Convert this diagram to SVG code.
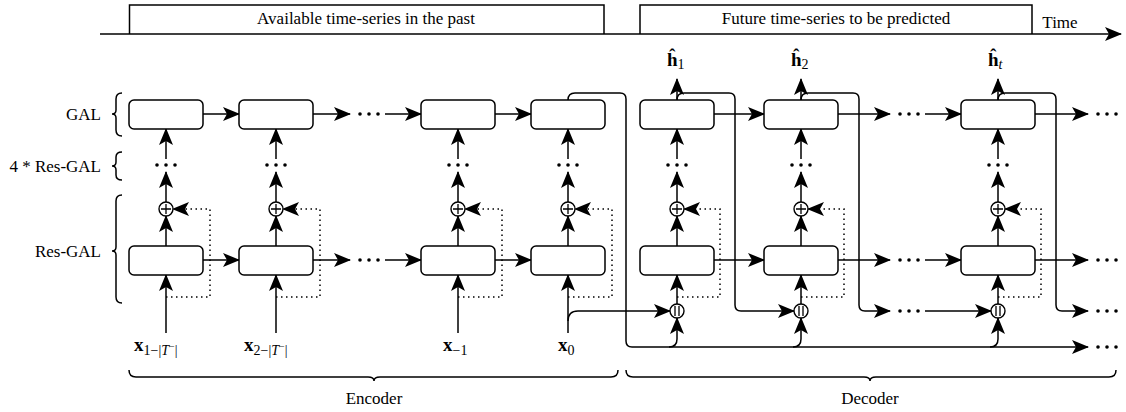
<svg xmlns="http://www.w3.org/2000/svg" width="1126" height="412" viewBox="0 0 1126 412">
  <defs>
    <marker id="arr" markerUnits="userSpaceOnUse" markerWidth="17" markerHeight="14" viewBox="0 0 17 14" refX="16" refY="7" orient="auto">
      <path d="M0,0 L17,7 L0,14 L4,7 Z" fill="#000"/>
    </marker>
    <g id="dots3">
      <circle cx="-9" cy="0" r="1.8"/>
      <circle cx="0" cy="0" r="1.8"/>
      <circle cx="9" cy="0" r="1.8"/>
    </g>
    <g id="plus">
      <circle cx="0" cy="0" r="7" fill="#fff" stroke="#000" stroke-width="1.4"/>
      <path d="M-5,0 H5 M0,-5 V5" stroke="#000" stroke-width="1.3"/>
    </g>
    <g id="concat">
      <circle cx="0" cy="0" r="7" fill="#fff" stroke="#000" stroke-width="1.4"/>
      <path d="M-2,-5 V5 M2,-5 V5" stroke="#000" stroke-width="1.3"/>
    </g>
  </defs>
  <style>
    text { font-family: "Liberation Serif", "Times New Roman", serif; fill: #000; }
    .lbl { font-size: 17px; }
    .box { fill: #fff; stroke: #000; stroke-width: 1.5; }
    .ln { fill: none; stroke: #000; stroke-width: 1.5; }
    .ar { fill: none; stroke: #000; stroke-width: 1.5; marker-end: url(#arr); }
    .dt { fill: none; stroke: #000; stroke-width: 1.5; stroke-dasharray: 1.5 3.5; marker-end: url(#arr); }
    .var { font-size: 19px; font-weight: bold; }
    .sub { font-size: 14px; font-weight: normal; }
  </style>

  <!-- time axis with the two period frames -->
  <g id="timeline">
    <path class="ln" d="M129.5,34 V5 H604 V34"/>
    <path class="ln" d="M640,34 V5 H1032 V34"/>
    <path class="ar" d="M100,34 H1121"/>
    <text class="lbl" x="366" y="24" text-anchor="middle">Available time-series in the past</text>
    <text class="lbl" x="836" y="24" text-anchor="middle">Future time-series to be predicted</text>
    <text class="lbl" x="1060" y="28" text-anchor="middle">Time</text>
  </g>

  <!-- layer labels with braces -->
  <g id="layer-labels">
    <text class="lbl" x="101" y="120" text-anchor="end">GAL</text>
    <path class="ln" d="M122,93 Q116,93 116,99 V110 Q116,114 112,114 Q116,114 116,118 V130 Q116,136 122,136"/>
    <text class="lbl" x="101" y="172" text-anchor="end">4 * Res-GAL</text>
    <path class="ln" d="M122,152 Q116,152 116,157 V162 Q116,166 112,166 Q116,166 116,170 V175 Q116,180 122,180"/>
    <text class="lbl" x="101" y="257" text-anchor="end">Res-GAL</text>
    <path class="ln" d="M122,195 Q116,195 116,201 V247 Q116,251 112,251 Q116,251 116,255 V297 Q116,303 122,303"/>
  </g>

  <!-- connectors -->
  <g id="connectors">
    <!-- encoder column stacks -->
    <g id="enc-stack">
      <path class="ar" d="M166,333 V275"/>
      <path class="ar" d="M276,333 V275"/>
      <path class="ar" d="M458,333 V275"/>
      <path class="ar" d="M568,333 V275"/>
      <path class="ar" d="M166,246 V216"/>
      <path class="ar" d="M276,246 V216"/>
      <path class="ar" d="M458,246 V216"/>
      <path class="ar" d="M568,246 V216"/>
      <path class="ar" d="M166,202 V172"/>
      <path class="ar" d="M276,202 V172"/>
      <path class="ar" d="M458,202 V172"/>
      <path class="ar" d="M568,202 V172"/>
      <path class="ar" d="M166,159 V129"/>
      <path class="ar" d="M276,159 V129"/>
      <path class="ar" d="M458,159 V129"/>
      <path class="ar" d="M568,159 V129"/>
      <path class="dt" d="M166,297 H210 V209 H173"/>
      <path class="dt" d="M276,297 H320 V209 H283"/>
      <path class="dt" d="M458,297 H502 V209 H465"/>
      <path class="dt" d="M568,297 H612 V209 H575"/>
    </g>
    <!-- decoder column stacks -->
    <g id="dec-stack">
      <path class="ar" d="M669,347 Q677,347 677,339 V318"/>
      <path class="ar" d="M793,347 Q801,347 801,339 V318"/>
      <path class="ar" d="M990,347 Q998,347 998,339 V318"/>
      <path class="ar" d="M677,304 V275"/>
      <path class="ar" d="M801,304 V275"/>
      <path class="ar" d="M998,304 V275"/>
      <path class="ar" d="M677,246 V216"/>
      <path class="ar" d="M801,246 V216"/>
      <path class="ar" d="M998,246 V216"/>
      <path class="ar" d="M677,202 V172"/>
      <path class="ar" d="M801,202 V172"/>
      <path class="ar" d="M998,202 V172"/>
      <path class="ar" d="M677,159 V129"/>
      <path class="ar" d="M801,159 V129"/>
      <path class="ar" d="M998,159 V129"/>
      <path class="ar" d="M677,100 V79"/>
      <path class="ar" d="M801,100 V79"/>
      <path class="ar" d="M998,100 V79"/>
      <path class="dt" d="M677,297 H720 V209 H684"/>
      <path class="dt" d="M801,297 H844 V209 H808"/>
      <path class="dt" d="M998,297 H1041 V209 H1005"/>
    </g>
    <!-- recurrent links along the GAL and Res-GAL rows -->
    <g id="rows">
      <path class="ar" d="M203,114 H239"/>
      <path class="ar" d="M312,114 H350"/>
      <path class="ar" d="M385,114 H421"/>
      <path class="ar" d="M495,114 H531"/>
      <path class="ar" d="M203,260 H239"/>
      <path class="ar" d="M312,260 H350"/>
      <path class="ar" d="M385,260 H421"/>
      <path class="ar" d="M495,260 H531"/>
      <path class="ar" d="M714,114 H764"/>
      <path class="ar" d="M838,114 H890"/>
      <path class="ar" d="M925,114 H961"/>
      <path class="ar" d="M1035,114 H1088"/>
      <path class="ar" d="M714,260 H764"/>
      <path class="ar" d="M838,260 H890"/>
      <path class="ar" d="M925,260 H961"/>
      <path class="ar" d="M1035,260 H1088"/>
      <use href="#dots3" x="369" y="114"/>
      <use href="#dots3" x="369" y="260"/>
      <use href="#dots3" x="909" y="114"/>
      <use href="#dots3" x="909" y="260"/>
      <use href="#dots3" x="1107" y="114"/>
      <use href="#dots3" x="1107" y="260"/>
    </g>
    <!-- encoder state and last input routed into the decoder -->
    <g id="handover">
      <path class="ar" d="M568,100 Q568,93 575,93 H620 Q626,93 626,99 V341 Q626,347 632,347 H1088"/>
      <path class="ar" d="M568,321 Q568,311 578,311 H670"/>
      <use href="#dots3" x="1107" y="347"/>
    </g>
    <!-- predicted outputs fed back as next inputs -->
    <g id="feedback">
      <path class="ar" d="M677,100 Q677,93 684,93 H729 Q735,93 735,99 V305 Q735,311 741,311 H794"/>
      <path class="ar" d="M801,100 Q801,93 808,93 H853 Q859,93 859,99 V305 Q859,311 865,311 H890"/>
      <path class="ar" d="M925,311 H991"/>
      <path class="ar" d="M998,100 Q998,93 1005,93 H1050 Q1056,93 1056,99 V305 Q1056,311 1062,311 H1088"/>
      <use href="#dots3" x="909" y="311"/>
      <use href="#dots3" x="1107" y="311"/>
    </g>
  </g>

  <!-- encoder nodes -->
  <g id="enc-1">
    <rect class="box" x="129" y="100" width="74" height="29" rx="5"/>
    <use href="#dots3" x="166" y="165"/>
    <use href="#plus" x="166" y="209"/>
    <rect class="box" x="129" y="246" width="74" height="29" rx="5"/>
    <text class="var" x="134" y="351">x<tspan class="sub" dy="4">1−|<tspan font-style="italic">T</tspan><tspan dy="-5" font-size="10">−</tspan><tspan dy="5">|</tspan></tspan></text>
  </g>
  <g id="enc-2">
    <rect class="box" x="239" y="100" width="74" height="29" rx="5"/>
    <use href="#dots3" x="276" y="165"/>
    <use href="#plus" x="276" y="209"/>
    <rect class="box" x="239" y="246" width="74" height="29" rx="5"/>
    <text class="var" x="244" y="351">x<tspan class="sub" dy="4">2−|<tspan font-style="italic">T</tspan><tspan dy="-5" font-size="10">−</tspan><tspan dy="5">|</tspan></tspan></text>
  </g>
  <g id="enc-3">
    <rect class="box" x="421" y="100" width="74" height="29" rx="5"/>
    <use href="#dots3" x="458" y="165"/>
    <use href="#plus" x="458" y="209"/>
    <rect class="box" x="421" y="246" width="74" height="29" rx="5"/>
    <text class="var" x="443" y="351">x<tspan class="sub" dy="4">−1</tspan></text>
  </g>
  <g id="enc-4">
    <rect class="box" x="531" y="100" width="74" height="29" rx="5"/>
    <use href="#dots3" x="568" y="165"/>
    <use href="#plus" x="568" y="209"/>
    <rect class="box" x="531" y="246" width="74" height="29" rx="5"/>
    <text class="var" x="558" y="351">x<tspan class="sub" dy="4">0</tspan></text>
  </g>

  <!-- decoder nodes -->
  <g id="dec-1">
    <text class="var" x="667" y="66">ĥ<tspan class="sub" dy="3">1</tspan></text>
    <rect class="box" x="640" y="100" width="74" height="29" rx="5"/>
    <use href="#dots3" x="677" y="165"/>
    <use href="#plus" x="677" y="209"/>
    <rect class="box" x="640" y="246" width="74" height="29" rx="5"/>
    <use href="#concat" x="677" y="311"/>
  </g>
  <g id="dec-2">
    <text class="var" x="791" y="66">ĥ<tspan class="sub" dy="3">2</tspan></text>
    <rect class="box" x="764" y="100" width="74" height="29" rx="5"/>
    <use href="#dots3" x="801" y="165"/>
    <use href="#plus" x="801" y="209"/>
    <rect class="box" x="764" y="246" width="74" height="29" rx="5"/>
    <use href="#concat" x="801" y="311"/>
  </g>
  <g id="dec-t">
    <text class="var" x="988" y="66">ĥ<tspan class="sub" dy="3" font-style="italic">t</tspan></text>
    <rect class="box" x="961" y="100" width="74" height="29" rx="5"/>
    <use href="#dots3" x="998" y="165"/>
    <use href="#plus" x="998" y="209"/>
    <rect class="box" x="961" y="246" width="74" height="29" rx="5"/>
    <use href="#concat" x="998" y="311"/>
  </g>

  <!-- encoder / decoder braces -->
  <g id="parts">
    <path class="ln" d="M129,370 Q129,377 136,377 H368 Q374,377 374,381 Q374,377 380,377 H611 Q618,377 618,370"/>
    <text class="lbl" x="374" y="404" text-anchor="middle">Encoder</text>
    <path class="ln" d="M626,370 Q626,377 633,377 H864 Q870,377 870,381 Q870,377 876,377 H1109 Q1116,377 1116,370"/>
    <text class="lbl" x="870" y="404" text-anchor="middle">Decoder</text>
  </g>
</svg>
